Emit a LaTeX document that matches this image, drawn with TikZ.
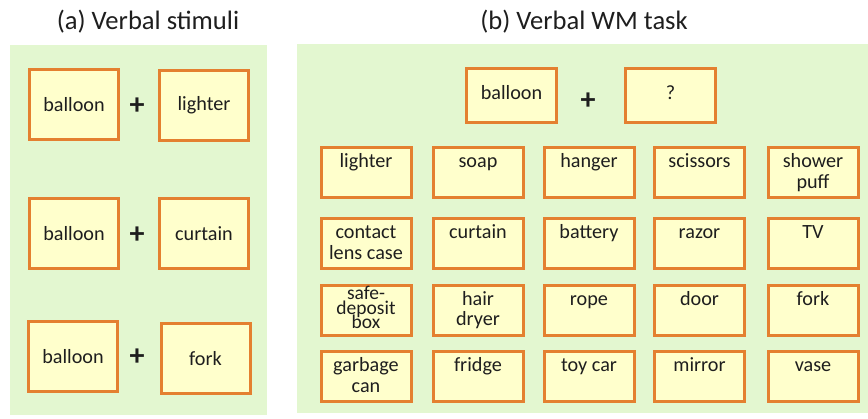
\documentclass[tikz,border=0pt]{standalone}
\usepackage{fontspec}
\setmainfont{Carlito}
\definecolor{bggreen}{RGB}{227,247,208}
\definecolor{boxyellow}{RGB}{255,255,204}
\definecolor{boxorange}{RGB}{228,128,48}
\definecolor{ink}{RGB}{30,30,30}
% grid cell: text hangs from the top edge
\newcommand{\cell}[1]{\parbox[c][50pt][t]{88pt}{\centering\rule{0pt}{20pt}#1}}
\begin{document}
\begin{tikzpicture}[x=1pt,y=-1pt,
  panel/.style={fill=bggreen, draw=none},
  wbox/.style={draw=boxorange, fill=boxyellow, line width=3pt, inner sep=0pt,
    text=ink, font=\fontsize{20.2}{20.5}\selectfont},
  pairbox/.style={wbox, minimum width=89pt, minimum height=70pt},
  gridbox/.style={wbox, minimum width=90pt, minimum height=50pt},
  topbox/.style={wbox, minimum width=90pt, minimum height=54pt},
  plus/.style={text=ink, font=\fontsize{30}{30}\selectfont\bfseries, inner sep=0pt},
  title/.style={text=ink, font=\fontsize{26.6}{28}\selectfont, anchor=base, inner sep=0pt}]
\useasboundingbox (0,0) rectangle (868,418);

% panels and headings
\fill[panel] (10,45) rectangle (267,415);
\fill[panel] (297,44) rectangle (868,413);
\node[title] (ta) at (148,29) {(a) Verbal stimuli};
\node[title] (tb) at (584,29) {(b) Verbal WM task};

% (a) stimulus pairs
\node[pairbox] (a1) at (74,104.5) {balloon};
\node[plus]    (p1) at (137,106) {+};
\node[pairbox] (b1) at (204,105.5) {lighter};
\node[pairbox] (a2) at (74,233.5) {balloon};
\node[plus]    (p2) at (137,235) {+};
\node[pairbox] (b2) at (204,233.5) {curtain};
\node[pairbox] (a3) at (73,356.5) {balloon};
\node[plus]    (p3) at (137,357) {+};
\node[pairbox] (b3) at (205.5,358.5) {fork};

% (b) cue and probe
\node[topbox] (cue)   at (511.5,95.5) {\parbox[c][54pt][t]{86pt}{\centering\rule{0pt}{31pt}balloon}};
\node[plus]   (pb)    at (588,101) {+};
\node[topbox] (probe) at (670.5,95.5) {\parbox[c][54pt][t]{86pt}{\centering\rule{0pt}{31pt}?}};

% (b) response grid
\node[gridbox] (g11) at (366,172.5) {\cell{lighter}};
\node[gridbox] (g12) at (478,172.5) {\cell{soap}};
\node[gridbox] (g13) at (589,172.5) {\cell{hanger}};
\node[gridbox] (g14) at (699.5,172.5) {\cell{scissors}};
\node[gridbox] (g15) at (813,172.5) {\cell{shower\\puff}};

\node[gridbox] (g21) at (366,243.5) {\cell{contact\\lens case}};
\node[gridbox] (g22) at (478,243.5) {\cell{curtain}};
\node[gridbox] (g23) at (589,243.5) {\cell{battery}};
\node[gridbox] (g24) at (699.5,243.5) {\cell{razor}};
\node[gridbox] (g25) at (813,243.5) {\cell{TV}};

\node[gridbox] (g31) at (366,310) {\parbox[c][50pt][t]{88pt}{\lineskiplimit=-100pt\fontsize{19.5}{14.5}\selectfont\centering\rule{0pt}{14.5pt}safe-\\deposit\\box}};
\node[gridbox] (g32) at (478,310) {\cell{hair\\dryer}};
\node[gridbox] (g33) at (589,310) {\cell{rope}};
\node[gridbox] (g34) at (699.5,310) {\cell{door}};
\node[gridbox] (g35) at (813,310) {\cell{fork}};

\node[gridbox] (g41) at (366,376.5) {\cell{garbage\\can}};
\node[gridbox] (g42) at (478,376.5) {\cell{fridge}};
\node[gridbox] (g43) at (589,376.5) {\cell{toy car}};
\node[gridbox] (g44) at (699.5,376.5) {\cell{mirror}};
\node[gridbox] (g45) at (813,376.5) {\cell{vase}};
\end{tikzpicture}
\end{document}
